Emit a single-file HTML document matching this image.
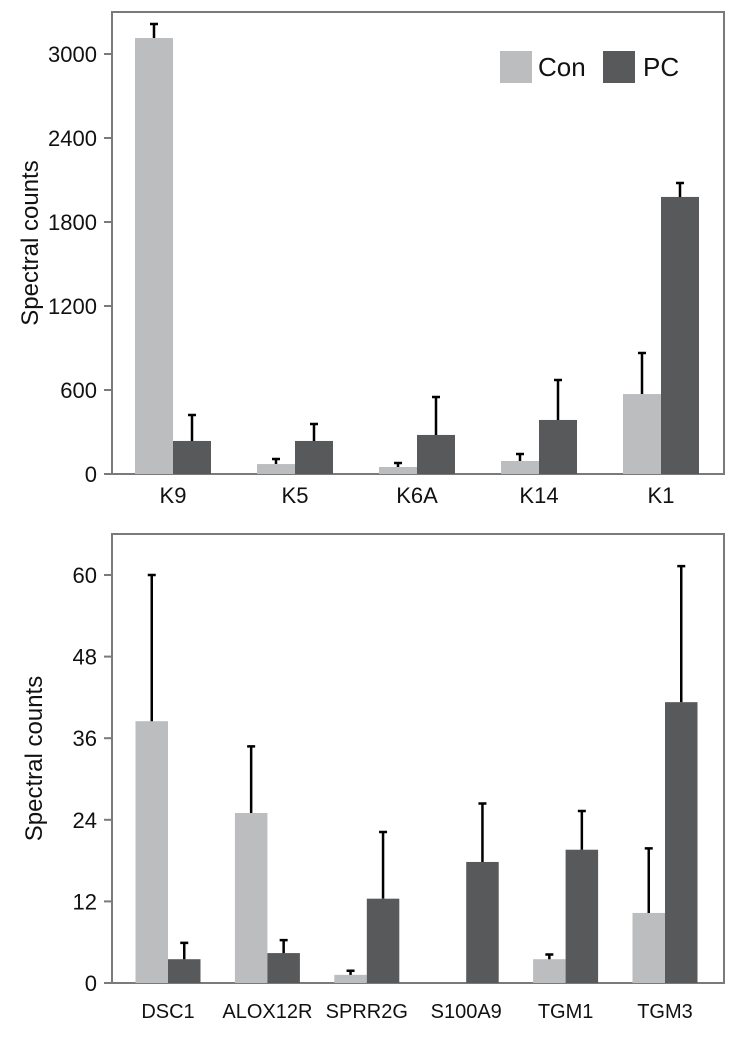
<!DOCTYPE html>
<html><head><meta charset="utf-8"><style>
body{margin:0;background:#fff}
svg text{font-family:"Liberation Sans",Arial,sans-serif;fill:#111}
</style></head><body>
<svg id="chart" width="737" height="1039" viewBox="0 0 737 1039" xmlns="http://www.w3.org/2000/svg"></svg>
<script>
const topCats=["K9","K5","K6A","K14","K1"];
const topCon=[3114,71,50,93,571];
const topConErr=[100,36,29,50,293];
const topPC=[236,236,279,386,1979];
const topPCErr=[185,121,271,285,100];
const topTicks=[0,600,1200,1800,2400,3000];

const botCats=["DSC1","ALOX12R","SPRR2G","S100A9","TGM1","TGM3"];
const botCon=[38.5,25,1.2,0,3.5,10.3];
const botConErr=[21.5,9.8,0.6,0,0.7,9.5];
const botPC=[3.5,4.4,12.4,17.8,19.6,41.3];
const botPCErr=[2.4,1.9,9.8,8.6,5.7,20];
const botTicks=[0,12,24,36,48,60];

const NS="http://www.w3.org/2000/svg";
const svg=document.getElementById('chart');
function mk(tag,attrs,parent){const e=document.createElementNS(NS,tag);for(const k in attrs)e.setAttribute(k,attrs[k]);(parent||svg).appendChild(e);return e;}

function panel(o){
  const g=mk('g',{});
  
  
  const y=v=>o.y0-(v/o.tmax)*(o.y0-o.ytop);
  const x=i=>o.c0+i*o.step;
  // frame
  const fr=mk('rect',{x:112,y:o.top,width:612,height:o.y0-o.top,fill:'none',stroke:'#7a7a7a','stroke-width':2},g);
  
  
  o.ticks.forEach(t=>{
    const l=mk('line',{x1:104,x2:112,y1:y(t),y2:y(t),stroke:'#7a7a7a','stroke-width':2},g);
    
    
    const tx=mk('text',{x:97,y:y(t)+8,'text-anchor':'end','font-size':22},g);
    tx.textContent=t;
    
    
  });
  o.cats.forEach((c,i)=>{
    const cx=x(i);
    [[o.con,o.conErr,'#bcbdbf',-1,'con'],[o.pc,o.pcErr,'#58595b',0,'pc']].forEach(s=>{
      const v=s[0][i],e=s[1][i];
      const bx=cx+s[3]*o.bw;
      const r=mk('rect',{x:bx,y:y(v),width:o.bw,height:o.y0-y(v),fill:s[2]},g);
      
      
      if(e>0){
        const mx=bx+o.bw/2;
        const el=mk('path',{d:`M${mx},${y(v)}V${y(v+e)}M${mx-4},${y(v+e)}H${mx+4}`,stroke:'#000','stroke-width':2.5,fill:'none'},g);
        
        
      }
    });
    const lt=mk('text',{x:cx,y:o.labY,'text-anchor':'middle','font-size':o.labFs},g);
    lt.textContent=c;
    
    
  });
  const yt=mk('text',{transform:`translate(${o.titleX},${(o.top+o.y0)/2}) rotate(-90)`,'text-anchor':'middle','font-size':24},g);
  yt.textContent='Spectral counts';
  
  
}
panel({name:'keratin-panel',cats:topCats,con:topCon,conErr:topConErr,pc:topPC,pcErr:topPCErr,ticks:topTicks,
  top:12,y0:474,ytop:54,tmax:3000,c0:173,step:122,bw:38,labY:503,labFs:22,titleX:38});
panel({name:'protein-panel',cats:botCats,con:botCon,conErr:botConErr,pc:botPC,pcErr:botPCErr,ticks:botTicks,
  top:534,y0:983,ytop:575,tmax:60,c0:168,step:99.4,bw:32.5,labY:1018,labFs:20,titleX:42});

// legend
const lg=mk('g',{});


const l1=mk('rect',{x:500,y:51,width:32,height:32,fill:'#bcbdbf'},lg);


const t1=mk('text',{x:538,y:76,'font-size':26},lg);t1.textContent='Con';


const l2=mk('rect',{x:603,y:51,width:32,height:32,fill:'#58595b'},lg);


const t2=mk('text',{x:643,y:76,'font-size':26},lg);t2.textContent='PC';


</script>
</body></html>
